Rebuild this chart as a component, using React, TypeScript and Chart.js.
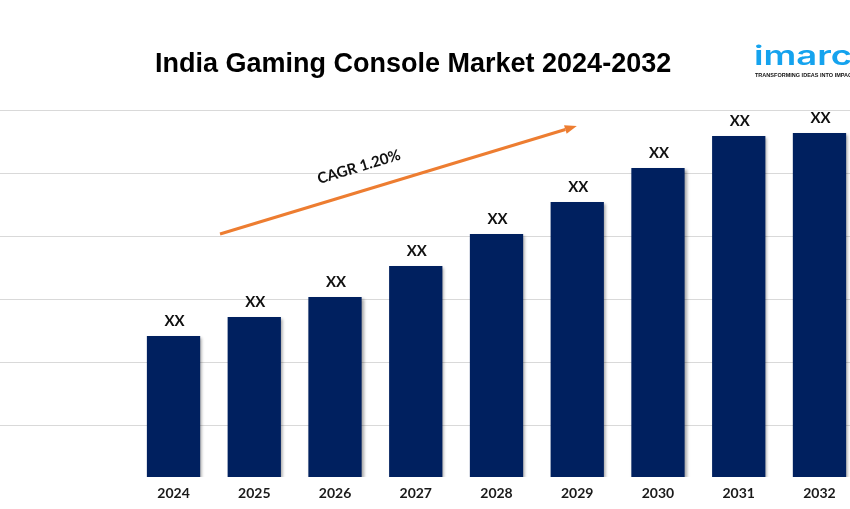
import React, { useEffect, useRef } from "react";
import { Chart, registerables } from "chart.js";

Chart.register(...registerables);

const years = ["2024", "2025", "2026", "2027", "2028", "2029", "2030", "2031", "2032"];
const values = [141, 160, 180, 211, 243, 275, 309, 341, 344];
const valueLabels = ["XX", "XX", "XX", "XX", "XX", "XX", "XX", "XX", "XX"];
const gridValues = [52, 115, 178, 241, 304, 367];
const titleText = "India Gaming Console Market 2024-2032";
const cagrText = "CAGR 1.20%";
const arrowStart = { x: 0.576, y: 243 };
const arrowEnd = { x: 4.995, y: 351 };

const BAR_COLOR = "#00205F";
const ORANGE = "#ED7D31";

export default function App() {
  const ref = useRef<HTMLCanvasElement | null>(null);

  useEffect(() => {
    document.body.style.margin = "0";
    const canvas = ref.current;
    if (!canvas) return;

    const overlay = {
      id: "overlay",
      beforeDatasetsDraw(chart: any) {
        const ctx = chart.ctx;
        ctx.save();
        ctx.shadowColor = "rgba(0,0,0,0.35)";
        ctx.shadowOffsetX = 2;
        ctx.shadowOffsetY = 2;
        ctx.shadowBlur = 3;
      },
      afterDatasetsDraw(chart: any) {
        const ctx = chart.ctx;
        ctx.restore();
        const meta = chart.getDatasetMeta(0);
        ctx.save();
        ctx.fillStyle = "#111111";
        ctx.font = "bold 15px Lato, 'Open Sans', sans-serif";
        ctx.textAlign = "center";
        ctx.textBaseline = "middle";
        meta.data.forEach((el: any, i: number) => {
          ctx.fillText(valueLabels[i], el.x + 1, el.y - 15);
        });
        ctx.restore();
      },
      afterDraw(chart: any) {
        const ctx = chart.ctx;
        const xs = chart.scales.x;
        const ys = chart.scales.y;
        ctx.save();
        // Title
        ctx.fillStyle = "#000000";
        ctx.font = "bold 27px 'Liberation Sans', Arial, sans-serif";
        ctx.textAlign = "left";
        ctx.textBaseline = "alphabetic";
        ctx.fillText(titleText, 155, 72);

        // Logo
        ctx.save();
        ctx.fillStyle = "#15A3EE";
        ctx.font = "600 26px Inter, 'Open Sans', sans-serif";
        ctx.textAlign = "left";
        ctx.textBaseline = "alphabetic";
        ctx.translate(754, 65);
        ctx.scale(1.4, 1);
        ctx.fillText("imarc", 0, 0);
        ctx.restore();
        ctx.save();
        ctx.fillStyle = "#111111";
        ctx.font = "bold 6px 'Liberation Sans', Arial, sans-serif";
        ctx.textAlign = "left";
        ctx.translate(755, 77);
        ctx.scale(0.92, 1);
        ctx.fillText("TRANSFORMING IDEAS INTO IMPACT", 0, 0);
        ctx.restore();

        // Arrow
        const x1 = xs.getPixelForValue(arrowStart.x);
        const y1 = ys.getPixelForValue(arrowStart.y);
        const x2 = xs.getPixelForValue(arrowEnd.x);
        const y2 = ys.getPixelForValue(arrowEnd.y);
        const ang = Math.atan2(y2 - y1, x2 - x1);
        const head = 12;
        const hx = x2 - head * Math.cos(ang);
        const hy = y2 - head * Math.sin(ang);
        ctx.strokeStyle = ORANGE;
        ctx.fillStyle = ORANGE;
        ctx.lineWidth = 3;
        ctx.beginPath();
        ctx.moveTo(x1, y1);
        ctx.lineTo(hx, hy);
        ctx.stroke();
        ctx.beginPath();
        ctx.moveTo(x2, y2);
        ctx.lineTo(hx + 4.5 * Math.sin(ang), hy - 4.5 * Math.cos(ang));
        ctx.lineTo(hx - 4.5 * Math.sin(ang), hy + 4.5 * Math.cos(ang));
        ctx.closePath();
        ctx.fill();

        // CAGR label
        ctx.save();
        ctx.translate(359, 167);
        ctx.rotate(ang);
        ctx.fillStyle = "#111111";
        ctx.font = "bold 15px Lato, 'Open Sans', sans-serif";
        ctx.textAlign = "center";
        ctx.textBaseline = "middle";
        ctx.fillText(cagrText, 0, 0);
        ctx.restore();
        ctx.restore();
      },
    };

    const chart = new Chart(canvas, {
      type: "bar",
      data: {
        datasets: [
          {
            data: values.map((v, i) => ({ x: i, y: v })),
            backgroundColor: BAR_COLOR,
            borderWidth: 0,
            barPercentage: 0.66,
            categoryPercentage: 1,
          },
        ],
      },
      options: {
        animation: false,
        responsive: false,
        devicePixelRatio: 1,
        layout: { padding: { top: 110, left: 0, right: 0, bottom: 0 } },
        plugins: {
          legend: { display: false },
          tooltip: { enabled: false },
          title: { display: false },
        },
        scales: {
          x: {
            type: "linear",
            offset: false,
            min: -2.149,
            max: 8.378,
            grid: { display: false, drawTicks: false, offset: false },
            border: { display: false },
            afterBuildTicks: (scale: any) => {
              scale.ticks = years.map((_, i) => ({ value: i }));
            },
            afterFit: (scale: any) => {
              scale.height = 32;
            },
            ticks: {
              padding: 8,
              autoSkip: false,
              maxRotation: 0,
              color: "#1a1a1a",
              font: { family: "Lato, 'Open Sans', sans-serif", weight: "bold", size: 14 },
              callback: (v: any) => years[Math.round(Number(v))] ?? "",
            },
          },
          y: {
            min: 0,
            max: 367,
            grid: { color: "#d9d9d9", lineWidth: 1, drawTicks: false },
            border: { display: false },
            afterBuildTicks: (scale: any) => {
              scale.ticks = gridValues.map((v) => ({ value: v }));
            },
            afterFit: (scale: any) => {
              scale.width = 0;
            },
            ticks: { display: false },
          },
        },
      },
      plugins: [overlay],
    } as any);

    return () => chart.destroy();
  }, []);

  return (
    <div style={{ position: "absolute", left: 0, top: 0, width: 850, height: 509 }}>
      <canvas ref={ref} width={850} height={509} />
    </div>
  );
}
